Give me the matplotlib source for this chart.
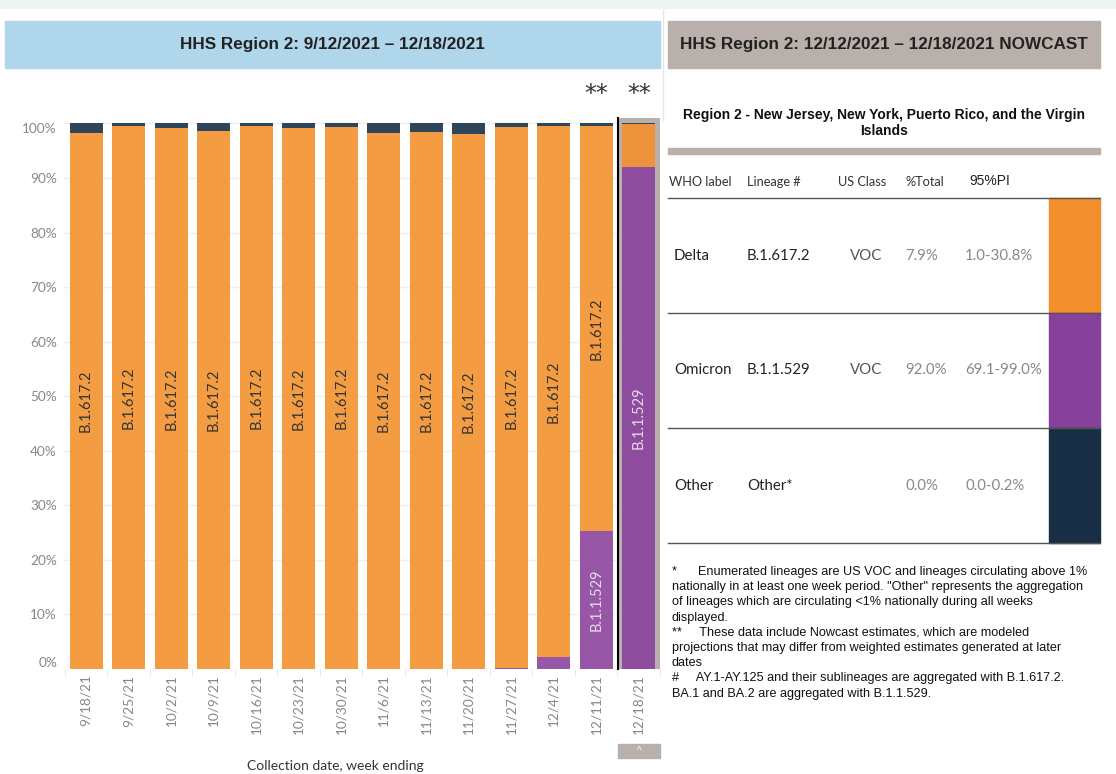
import numpy as np
import matplotlib
matplotlib.use("Agg")
import matplotlib.pyplot as plt
from matplotlib.patches import Rectangle

# ---------------------------------------------
# data
# ---------------------------------------------
weeks = ['9/18/21', '9/25/21', '10/2/21', '10/9/21', '10/16/21', '10/23/21', '10/30/21',
         '11/6/21', '11/13/21', '11/20/21', '11/27/21', '12/4/21', '12/11/21', '12/18/21']
omicron = [0, 0, 0, 0, 0, 0, 0, 0, 0, 0, 0.2, 2.2, 25.3, 92.0]
delta = [98.2, 99.6, 99.1, 98.7, 99.6, 99.1, 99.3, 98.2, 98.5, 98.0, 99.1, 97.4, 74.3, 7.9]
other = [1.8, 0.4, 0.9, 1.3, 0.4, 0.9, 0.7, 1.8, 1.5, 2.0, 0.7, 0.4, 0.4, 0.1]
nowcast = [False] * 12 + [True, True]

yticks = [0, 10, 20, 30, 40, 50, 60, 70, 80, 90, 100]

tbl_header = ['WHO label', 'Lineage #', 'US Class', '%Total', '95%PI']
tbl_who = ['Delta', 'Omicron', 'Other']
tbl_lineage = ['B.1.617.2', 'B.1.1.529', 'Other*']
tbl_class = ['VOC', 'VOC', '']
tbl_total = ['7.9%', '92.0%', '0.0%']
tbl_pi = ['1.0-30.8%', '69.1-99.0%', '0.0-0.2%']
tbl_colors = ['#F28E2B', '#86419A', '#182E45']

footnotes = [
    '*      Enumerated lineages are US VOC and lineages circulating above 1%',
    'nationally in at least one week period. "Other" represents the aggregation',
    'of lineages which are circulating <1% nationally during all weeks',
    'displayed.',
    '**     These data include Nowcast estimates, which are modeled',
    'projections that may differ from weighted estimates generated at later',
    'dates',
    '#     AY.1-AY.125 and their sublineages are aggregated with B.1.617.2.',
    'BA.1 and BA.2 are aggregated with B.1.1.529.',
]

W, H = 1116, 774
ORANGE, ORANGE_HL = '#F39C42', '#EC933C'
PURPLE, PURPLE_HL = '#9757A6', '#8D4C9E'
NAVY = '#2F4559'
GREY_BOX = '#BAB0AB'
TAB_FONT = ['Lato', 'DejaVu Sans']
ARIAL = ['Liberation Sans', 'DejaVu Sans']


def fx(x):
    return x / W


def fy(y):
    return 1 - y / H


fig = plt.figure(figsize=(W / 100, H / 100), dpi=100)

# ---------------------------------------------
# header strips
# ---------------------------------------------
fig.patches.append(Rectangle((0, fy(8)), 1, 8 / H, transform=fig.transFigure,
                             color='#EEF6F4', zorder=0))
fig.patches.append(Rectangle((fx(5), fy(68)), (660 - 5) / W, 47 / H, transform=fig.transFigure,
                             color='#B0D6EC', zorder=0))
fig.patches.append(Rectangle((fx(668), fy(68)), (1100 - 668) / W, 47 / H, transform=fig.transFigure,
                             color=GREY_BOX, zorder=0))
fig.text(fx(332), fy(44), 'HHS Region 2: 9/12/2021 \u2013 12/18/2021', ha='center', va='center',
         fontsize=12.3, fontweight='bold', family=ARIAL, color='#222222')
fig.text(fx(884), fy(44), 'HHS Region 2: 12/12/2021 \u2013 12/18/2021 NOWCAST', ha='center', va='center',
         fontsize=12.3, fontweight='bold', family=ARIAL, color='#222222')
fig.add_artist(plt.Line2D([fx(663), fx(663)], [fy(10), fy(120)], color='#E6E6E6', lw=1))

# ---------------------------------------------
# stacked bar chart
# ---------------------------------------------
ax = fig.add_axes([fx(64), fy(669), (660 - 64) / W, (669 - 118) / H])
x = np.arange(len(weeks))
ax.set_xlim(-0.52, len(weeks) - 0.5)
ax.set_ylim(0, 101)

# highlight box behind nowcast bar
last = len(weeks) - 1
ax.add_patch(Rectangle((last - 0.49, 0), 0.98, 101, color=GREY_BOX, zorder=1, lw=0))
ax.plot([last - 0.49, last - 0.49], [0, 101], color='black', lw=1.5, zorder=4, clip_on=False)

orange_c = [ORANGE_HL if i == last else ORANGE for i in x]
purple_c = [PURPLE_HL if i == last else PURPLE for i in x]
om = np.array(omicron)
de = np.array(delta)
ot = np.array(other)
ax.bar(x, om, width=0.78, color=purple_c, zorder=2)
ax.bar(x, de, bottom=om, width=0.78, color=orange_c, zorder=2)
ax.bar(x, ot, bottom=om + de, width=0.78, color=NAVY, zorder=2)

for i in x:
    if de[i] > 15:
        ax.text(i, om[i] + de[i] / 2, 'B.1.617.2', rotation=90, ha='center', va='center',
                fontsize=10.5, family=TAB_FONT, color='#333333', zorder=3)
    if om[i] > 15:
        ax.text(i, om[i] / 2, 'B.1.1.529', rotation=90, ha='center', va='center',
                fontsize=10.5, family=TAB_FONT, color='#E6DCEC', zorder=3)
    if nowcast[i]:
        ax.text(i, 103.2, '**', ha='center', va='bottom', fontsize=17,
                family=['DejaVu Sans'], color='#333333')

# y axis
ax.set_yticks(yticks)
ax.set_yticklabels([f'{t}%' for t in yticks], family=TAB_FONT, fontsize=9.8, color='#888888')
ylabs = ax.get_yticklabels()
ylabs[0].set_va('bottom')
ylabs[-1].set_va('top')
ax.tick_params(axis='y', length=0, pad=5)
ax.grid(axis='y', color='#EFEFEF', lw=1, zorder=0)
ax.set_axisbelow(True)

# x axis
ax.set_xticks(x)
ax.set_xticklabels(weeks, rotation=90, family=TAB_FONT, fontsize=9.8, color='#888888', va='top')
ax.tick_params(axis='x', length=0, pad=4)
ax.set_xticks(np.arange(-0.5, len(weeks), 1), minor=True)
ax.tick_params(axis='x', which='minor', length=5, color='#E4E4E4')

for s in ax.spines.values():
    s.set_visible(False)

fig.text(fx(335), fy(760), 'Collection date, week ending', ha='center', va='top',
         fontsize=10, family=TAB_FONT, color='#333333')
fig.patches.append(Rectangle((fx(618), fy(758)), 42 / W, 14 / H, transform=fig.transFigure,
                             color=GREY_BOX, zorder=0))
fig.text(fx(639), fy(751), '^', ha='center', va='center', fontsize=7, color='white', family=ARIAL)

# ---------------------------------------------
# nowcast table
# ---------------------------------------------
fig.text(fx(884), fy(115), 'Region 2 - New Jersey, New York, Puerto Rico, and the Virgin',
         ha='center', va='center', fontsize=10, fontweight='bold', family=ARIAL, color='#111111')
fig.text(fx(884), fy(131), 'Islands', ha='center', va='center', fontsize=10,
         fontweight='bold', family=ARIAL, color='#111111')
fig.patches.append(Rectangle((fx(668), fy(154)), (1100 - 668) / W, 6 / H, transform=fig.transFigure,
                             color=GREY_BOX, zorder=0))

head_x = [669, 747, 838, 905, 969]
for hx, h in zip(head_x, tbl_header):
    if h == '95%PI':
        fig.text(fx(hx), fy(181), h, ha='left', va='center', fontsize=10, family=ARIAL,
                 color='#222222')
    else:
        fig.text(fx(hx), fy(182), h, ha='left', va='center', fontsize=9.2, family=TAB_FONT,
                 color='#333333')

line_y = [198, 313, 428, 543]
for ly in line_y:
    fig.add_artist(plt.Line2D([fx(668), fx(1100)], [fy(ly), fy(ly)], color='#555555', lw=1))

for r in range(len(tbl_who)):
    top, bot = line_y[r], line_y[r + 1]
    cy = (top + bot) / 2
    fig.patches.append(Rectangle((fx(1049), fy(bot)), 51 / W, (bot - top) / H,
                                 transform=fig.transFigure, color=tbl_colors[r], zorder=0))
    fig.text(fx(674), fy(cy), tbl_who[r], ha='left', va='center', fontsize=10.8,
             family=TAB_FONT, color='#222222')
    fig.text(fx(747), fy(cy), tbl_lineage[r], ha='left', va='center', fontsize=10.8,
             family=TAB_FONT, color='#222222')
    fig.text(fx(882), fy(cy), tbl_class[r], ha='right', va='center', fontsize=10.8,
             family=TAB_FONT, color='#555555')
    fig.text(fx(905), fy(cy), tbl_total[r], ha='left', va='center', fontsize=10.8,
             family=TAB_FONT, color='#888888')
    fig.text(fx(965), fy(cy), tbl_pi[r], ha='left', va='center', fontsize=10.8,
             family=TAB_FONT, color='#888888')

# footnotes
for k, line in enumerate(footnotes):
    fig.text(fx(672), fy(572 + k * 15.2), line, ha='left', va='center', fontsize=9.1,
             family=ARIAL, color='#111111')

fig.savefig('out.png', dpi=100)
